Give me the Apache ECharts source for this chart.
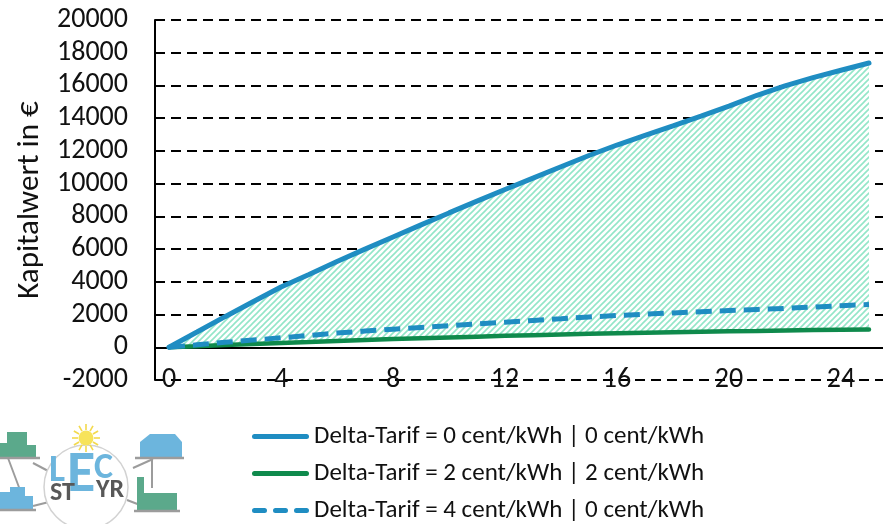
<!DOCTYPE html>
<html>
<head>
<meta charset="utf-8">
<script src="https://cdn.jsdelivr.net/npm/echarts@6/dist/echarts.min.js"></script>
<style>
  html, body { margin: 0; padding: 0; background: #fff; }
  #chart { width: 883px; height: 524px; }
</style>
</head>
<body>
<div id="chart"></div>
<script>
// Years of operation (0 … 25)
const years = ['0','1','2','3','4','5','6','7','8','9','10','11','12','13','14','15','16','17','18','19','20','21','22','23','24','25'];

// Net present value in € per tariff scenario
const npvTariff0 = [0, 930, 1870, 2780, 3680, 4450, 5240, 6000, 6740, 7480, 8210, 8930, 9640, 10340, 11030, 11720, 12360, 12950, 13530, 14120, 14740, 15400, 15980, 16480, 16930, 17370];
const npvTariff2 = [0, 70, 140, 200, 265, 320, 380, 440, 500, 550, 600, 650, 700, 740, 780, 820, 860, 890, 920, 950, 980, 1000, 1030, 1050, 1070, 1080];
const npvTariff4 = [0, 150, 300, 440, 580, 720, 870, 990, 1100, 1210, 1320, 1430, 1530, 1640, 1740, 1850, 1940, 2020, 2100, 2170, 2240, 2310, 2380, 2460, 2540, 2610];

const seriesNames = [
  'Delta-Tarif = 0 cent/kWh | 0 cent/kWh',
  'Delta-Tarif = 2 cent/kWh | 2 cent/kWh',
  'Delta-Tarif = 4 cent/kWh | 0 cent/kWh'
];

const yMin = -2000, yMax = 20000, yStep = 2000;

const FONT = 'Carlito, Lato, sans-serif';
const BLUE = '#1f8dc2';
const GREEN = '#0f8a4c';

// Band between the 2-cent and the 0-cent curve
const bandHeight = npvTariff0.map((v, i) => v - npvTariff2[i]);

// Diagonal hatch tile for the band
function hatchTile() {
  const s = 6;
  const c = document.createElement('canvas');
  c.width = s; c.height = s;
  const g = c.getContext('2d');
  g.fillStyle = '#ffffff';
  g.fillRect(0, 0, s, s);
  g.strokeStyle = '#93e6c8';
  g.lineWidth = 1.6;
  g.beginPath();
  g.moveTo(0, s); g.lineTo(s, 0);
  g.moveTo(-1, 1); g.lineTo(1, -1);
  g.moveTo(s - 1, s + 1); g.lineTo(s + 1, s - 1);
  g.stroke();
  return c;
}

// Legend icons: solid bar and three-dash bar
const ICON_SOLID = 'path://M2.5,0h52a2.5,2.5 0 0 1 0,5h-52a2.5,2.5 0 0 1 0,-5z';
const ICON_DASHED = 'path://M2.5,0h10a2.5,2.5 0 0 1 0,5h-10a2.5,2.5 0 0 1 0,-5z M23.5,0h10a2.5,2.5 0 0 1 0,5h-10a2.5,2.5 0 0 1 0,-5z M44.5,0h10a2.5,2.5 0 0 1 0,5h-10a2.5,2.5 0 0 1 0,-5z';

// Logo in the lower left corner
function logo() {
  const gray = '#9c9c9c';
  const teal = '#5ba98b';
  const sky = '#6cb5dd';
  const items = [];
  const line = (x1, y1, x2, y2, w, col) => items.push({
    type: 'line', shape: { x1, y1, x2, y2 }, style: { stroke: col || gray, lineWidth: w || 2 }
  });
  // connectors
  line(8, 458, 20, 490);
  line(33, 463, 52, 473);
  line(33, 506, 53, 501);
  line(133, 468, 153, 459);
  line(152, 459, 152, 488);
  line(127, 500, 140, 505);
  // hub circle
  items.push({ type: 'circle', shape: { cx: 86, cy: 487, r: 42 }, style: { fill: '#fff', stroke: '#d2d2d2', lineWidth: 1.5 } });
  // sun
  for (let k = 0; k < 12; k++) {
    const a = k * Math.PI / 6;
    line(86 + Math.cos(a) * 8, 438 + Math.sin(a) * 8, 86 + Math.cos(a) * 14, 438 + Math.sin(a) * 14, 1.6, '#f3d94c');
  }
  items.push({ type: 'circle', shape: { cx: 86, cy: 438, r: 7.5 }, style: { fill: '#f7e35a' } });
  // buildings
  items.push({ type: 'polygon', shape: { points: [[0,458],[0,443],[7,443],[7,432],[27,432],[27,445],[36,445],[36,458]] }, style: { fill: teal } });
  items.push({ type: 'polygon', shape: { points: [[0,510],[0,492],[10,492],[10,487],[25,487],[25,496],[33,496],[33,510]] }, style: { fill: sky } });
  items.push({ type: 'polygon', shape: { points: [[140,457],[140,442],[150,434],[175,434],[182,442],[182,457]] }, style: { fill: sky } });
  items.push({ type: 'polygon', shape: { points: [[137,510],[137,477],[144,477],[144,493],[177,493],[177,510]] }, style: { fill: teal } });
  // base lines
  line(0, 458, 40, 458, 2.5);
  line(0, 510, 36, 510, 2.5);
  line(135, 458, 184, 458, 2.5);
  line(134, 511, 180, 511, 2.5);
  // lettering
  items.push({ type: 'text', style: { x: 49, y: 452, text: 'L', fill: sky, font: 'bold 38px ' + FONT } });
  items.push({ type: 'text', style: { x: 67, y: 447, text: 'E', fill: sky, font: 'bold 58px ' + FONT } });
  items.push({ type: 'text', style: { x: 94, y: 451, text: 'C', fill: sky, font: 'bold 36px ' + FONT } });
  items.push({ type: 'text', style: { x: 50, y: 480, text: 'ST', fill: '#585858', font: 'bold 26px ' + FONT } });
  items.push({ type: 'text', style: { x: 96, y: 477, text: 'YR', fill: '#585858', font: 'bold 26px ' + FONT } });
  return items;
}

const chart = echarts.init(document.getElementById('chart'), null, { renderer: 'canvas' });

chart.setOption({
  animation: false,
  backgroundColor: '#fff',
  textStyle: { fontFamily: FONT },
  grid: { left: 155, right: 0, top: 20, bottom: 144, containLabel: false },
  legend: {
    orient: 'vertical',
    left: 252,
    top: 424,
    height: 130,
    padding: 0,
    itemWidth: 57,
    itemHeight: 5,
    itemGap: 12,
    data: [
      { name: seriesNames[0], icon: ICON_SOLID },
      { name: seriesNames[1], icon: ICON_SOLID },
      { name: seriesNames[2], icon: ICON_DASHED }
    ],
    textStyle: { fontSize: 25, color: '#111', fontFamily: FONT },
    selectedMode: false
  },
  xAxis: {
    type: 'category',
    data: years,
    boundaryGap: true,
    axisLine: { onZero: true, lineStyle: { color: '#000', width: 2 } },
    axisTick: { show: false },
    axisLabel: { interval: 3, fontSize: 28, color: '#111', margin: 0, verticalAlign: 'middle' },
    splitLine: { show: false }
  },
  yAxis: {
    type: 'value',
    min: yMin,
    max: yMax,
    interval: yStep,
    name: 'Kapitalwert in €',
    nameLocation: 'middle',
    nameGap: 90,
    nameTextStyle: { fontSize: 31, color: '#111', fontFamily: FONT },
    axisLine: { show: true, lineStyle: { color: '#000', width: 2 } },
    axisTick: { show: false },
    axisLabel: { fontSize: 28, color: '#111', margin: 27, formatter: v => String(v) },
    splitLine: { show: true, lineStyle: { color: '#000', width: 2, type: [10, 6] } }
  },
  series: [
    {
      name: 'base', type: 'line', stack: 'band', data: npvTariff2,
      symbol: 'none', silent: true, lineStyle: { width: 0, opacity: 0 }, z: 1
    },
    {
      name: 'band', type: 'line', stack: 'band', data: bandHeight,
      symbol: 'none', silent: true, lineStyle: { width: 0, opacity: 0 },
      areaStyle: { color: { image: hatchTile(), repeat: 'repeat' }, opacity: 1 }, z: 1
    },
    {
      name: seriesNames[1], type: 'line', data: npvTariff2, symbol: 'none',
      lineStyle: { color: GREEN, width: 4.5, cap: 'round' }, itemStyle: { color: GREEN }, z: 3
    },
    {
      name: seriesNames[2], type: 'line', data: npvTariff4, symbol: 'none',
      lineStyle: { color: BLUE, width: 5, type: [16, 8] }, itemStyle: { color: BLUE }, z: 4
    },
    {
      name: seriesNames[0], type: 'line', data: npvTariff0, symbol: 'none',
      lineStyle: { color: BLUE, width: 5, cap: 'round' }, itemStyle: { color: BLUE }, z: 5
    }
  ],
  graphic: logo()
});
</script>
</body>
</html>
